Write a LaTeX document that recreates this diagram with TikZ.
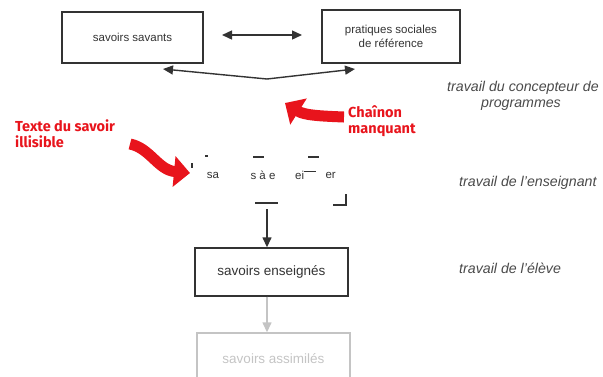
\documentclass[tikz,border=0pt]{standalone}
\usepackage{fontspec}
\setmainfont{Liberation Sans}
\newfontfamily\redfont{Fira Sans}
\usetikzlibrary{arrows.meta}
\definecolor{boxline}{HTML}{333333}
\definecolor{boxtext}{HTML}{333333}
\definecolor{faded}{HTML}{C4C4C4}
\definecolor{signal}{HTML}{E8141C}
\definecolor{rolegray}{HTML}{4A4A4A}
\begin{document}
\begin{tikzpicture}[x=1pt,y=-1pt,
  box/.style={draw=boxline, line width=1.4pt, align=center, text=boxtext, inner sep=0pt},
  topbox/.style={box, font=\fontsize{11.5}{14}\selectfont},
  lowbox/.style={box, font=\fontsize{13.5}{16}\selectfont},
  arr/.style={draw=boxline, line width=1.4pt, -{Triangle[length=10pt,width=9pt]}},
  fragment/.style={text=boxtext, font=\fontsize{11.5}{14}\selectfont, inner sep=0pt},
  fragline/.style={draw=boxline, line width=1.2pt},
  role/.style={text=rolegray, font=\fontsize{14.2}{16}\selectfont\itshape, align=center, inner sep=0pt},
  note/.style={text=signal, font=\fontsize{14.5}{16}\selectfont\redfont\bfseries, align=left, inner sep=0pt},
  bigarrow/.style={draw=signal, line width=11pt, -{Triangle[length=16pt,width=30pt]}}
]
\useasboundingbox (0,0) rectangle (603,376);
\clip (0,0) rectangle (603,376);

% upper level: the two sources of knowledge
\node[topbox, minimum width=141pt, minimum height=51pt] (ss) at (132.5,37.5) {savoirs savants};
\node[topbox, minimum width=138pt, minimum height=53pt] (ps) at (391,36.5) {pratiques sociales\\de référence};
\coordinate (hl) at (222,35);
\coordinate (hr) at (302,35);
\draw[arr, {Triangle[length=10pt,width=9pt]}-{Triangle[length=10pt,width=9pt]}] (hl) -- (hr);

% the V-shaped link under the two boxes
\coordinate (vmid) at (267,79);
\coordinate (vl) at (163,69);
\coordinate (vr) at (355,69);
\draw[arr] (vmid) -- (vl);
\draw[arr] (vmid) -- (vr);

% roles on the right
\node[role] (r1) at (523,88) {travail du concepteur de};
\node[role] (r1b) at (521,105) {programmes};
\node[role, anchor=west] (r2) at (459,183) {travail de l'enseignant};
\node[role, anchor=west] (r3) at (459,268) {travail de l'élève};

% red annotations
\node[note, anchor=west] (n1) at (348,121) {Chaînon\\manquant};
\node[note, anchor=west] (n2) at (15,134) {Texte du savoir\\illisible};
\coordinate (a1s) at (344,117);
\coordinate (a1e) at (285,103);
\draw[bigarrow] (a1s) .. controls (318,116) and (304,115) .. (a1e);
\coordinate (a2s) at (130,144);
\coordinate (a2e) at (190,173);
\draw[bigarrow] (a2s) .. controls (150,148) and (158,170) .. (a2e);

% what is left of the box "savoirs a enseigner"
\node[fragment] (f1) at (213,175) {sa};
\node[fragment] (f2) at (263,175) {s à e};
\node[fragment, anchor=west] (f3) at (295,175) {ei};
\node[fragment, anchor=east] (f4) at (336,175) {er};
\coordinate (g1) at (304,171);
\coordinate (g2) at (316,171);
\draw[line width=0.8pt, boxline] (g1) -- (g2);
\coordinate (d1) at (192,163);
\coordinate (d2) at (192,168);
\draw[fragline] (d1) -- (d2);
\coordinate (d3) at (205,156);
\coordinate (d4) at (207.5,156);
\draw[fragline] (d3) -- (d4);
\coordinate (d5) at (253,157);
\coordinate (d6) at (264,157);
\draw[fragline] (d5) -- (d6);
\coordinate (d7) at (308,157);
\coordinate (d8) at (319,157);
\draw[fragline] (d7) -- (d8);
\coordinate (d9) at (255,203);
\coordinate (d10) at (278,203);
\draw[fragline] (d9) -- (d10);
\coordinate (k1) at (333,205);
\coordinate (k2) at (346,205);
\coordinate (k3) at (346,194);
\draw[fragline] (k1) -- (k2) -- (k3);

% lower level
\node[lowbox, minimum width=153pt, minimum height=48pt] (se) at (271.5,272) {savoirs enseignés};
\node[box, draw=faded, text=faded, font=\fontsize{13.5}{16}\selectfont, minimum width=153pt, minimum height=52pt] (sa) at (273.5,359) {savoirs assimilés};
\coordinate (m) at (267,209);
\draw[arr] (m) -- (m |- se.north);
\draw[arr, draw=faded, fill=faded] (se.south -| m) -- (sa.north -| m);
\end{tikzpicture}
\end{document}
